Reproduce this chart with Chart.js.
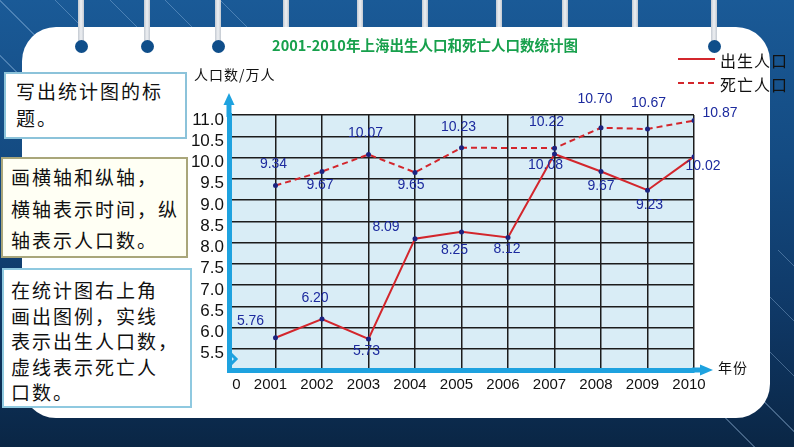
<!DOCTYPE html>
<html>
<head>
<meta charset="utf-8">
<script src="https://cdn.jsdelivr.net/npm/chart.js@4.4.0/dist/chart.umd.min.js"></script>
<style>
    html, body { margin: 0; padding: 0; }
    body {
        width: 794px; height: 447px; overflow: hidden; position: relative;
        background: linear-gradient(180deg, #1a5a97 0%, #144b82 35%, #0f3866 70%, #0a2645 100%);
        font-family: "Noto Sans CJK SC", sans-serif;
    }
    .stripes { position: absolute; left: 0; top: 0; width: 260px; height: 110px;
        background: repeating-linear-gradient(45deg, transparent 0 38px, rgba(170, 205, 240, 0.35) 38px 39px); }
    .stripes.right { left: 700px; top: 250px; width: 94px; height: 197px; }
    .panel { position: absolute; left: 22px; top: 27px; width: 748px; height: 391px; background: #fff; border-radius: 34px; }
    .bar { position: absolute; top: 0; width: 6px; background: linear-gradient(90deg, #c3c9d1, #eef0f3, #c3c9d1); }
    .ring { position: absolute; width: 13px; height: 13px; border-radius: 50%; background: #0f4e8a; }
    #chart { position: absolute; left: 0; top: 0; }
    .note { position: absolute; box-sizing: border-box; font-size: 19px; letter-spacing: 2px; color: #111; white-space: nowrap; }
</style>
</head>
<body>
<div class="stripes"></div>
<div class="stripes right"></div>
<div class="panel"></div>
<div id="rings"></div>
<canvas id="chart" width="794" height="447"></canvas>

<div class="note" style="left:4px;top:72px;width:183px;height:67px;border:2px solid #8cc3da;background:#fff;line-height:27px;padding:3px 0 0 10px;">写出统计图的标<br>题。</div>
<div class="note" style="left:1px;top:157px;width:187px;height:101px;border:2px solid #a9a67a;background:#fffff4;line-height:31.5px;padding:2px 0 0 8px;">画横轴和纵轴，<br>横轴表示时间，纵<br>轴表示人口数。</div>
<div class="note" style="left:2px;top:268px;width:190px;height:140px;border:2px solid #8fc9e0;background:#fff;line-height:25.5px;padding:7px 0 0 7px;">在统计图右上角<br>画出图例，实线<br>表示出生人口数，<br>虚线表示死亡人<br>口数。</div>

<script>
// Chart data
const years = [2001, 2002, 2003, 2004, 2005, 2006, 2007, 2008, 2009, 2010];
const birthValues = [5.76, 6.20, 5.73, 8.09, 8.25, 8.12, 10.08, 9.67, 9.23, 10.02];
const deathValues = [9.34, 9.67, 10.07, 9.65, 10.23, null, 10.22, 10.70, 10.67, 10.87];
const seriesNames = ['出生人口', '死亡人口'];
const yMin = 5, yMax = 11, yStep = 0.5;
const xStart = 2000;
const chartTitle = '2001-2010年上海出生人口和死亡人口数统计图';
const yAxisTitle = '人口数/万人';
const xAxisTitle = '年份';

// Binder rings along the top of the slide
const ringHolder = document.getElementById('rings');
[81, 147, 218, 286, 360, 425, 499, 565, 635, 714].forEach((x) => {
    const withRing = [81, 147, 218, 714].includes(x);
    const bar = document.createElement('div');
    bar.className = 'bar';
    bar.style.left = (x - 3) + 'px';
    bar.style.height = (withRing ? 46 : 27) + 'px';
    ringHolder.appendChild(bar);
    if (withRing) {
        const ring = document.createElement('div');
        ring.className = 'ring';
        ring.style.left = (x - 6.5) + 'px';
        ring.style.top = '39.5px';
        ringHolder.appendChild(ring);
    }
});

// Label shifts (dx, dy) from each point
const birthLabelShift = [[-25, -17], [-7, -21], [-2, 12], [-29, -12], [-7, 18], [-1, 12], [-9, 11], [0, 15], [2, 15], [9, 9]];
const deathLabelShift = [[-2, -21], [-2, 14], [-3, -21], [-4, 13], [-3, -21], [0, 0], [-8, -26], [-6, -29], [1, -26], [26, -7]];

const AXIS_BLUE = '#1ea2df';
const LINE_RED = '#d3262c';

const slideChartPlugin = {
    id: 'slideChart',
    beforeDraw(chart) {
        const { ctx, chartArea: a } = chart;
        ctx.save();
        ctx.fillStyle = '#d9edf6';
        ctx.fillRect(a.left, a.top, a.right - a.left, a.bottom - a.top);
        ctx.restore();
    },
    afterDraw(chart) {
        const { ctx, chartArea: a } = chart;
        ctx.save();

        // axis extensions and arrows
        ctx.strokeStyle = AXIS_BLUE;
        ctx.fillStyle = AXIS_BLUE;
        ctx.lineWidth = 5;
        ctx.beginPath();
        ctx.moveTo(a.left, a.top + 2);
        ctx.lineTo(a.left, a.top - 12);
        ctx.moveTo(a.right - 2, a.bottom);
        ctx.lineTo(a.right + 8, a.bottom);
        ctx.stroke();
        ctx.beginPath();
        ctx.moveTo(a.left, a.top - 22);
        ctx.lineTo(a.left - 5.5, a.top - 10);
        ctx.lineTo(a.left + 5.5, a.top - 10);
        ctx.closePath();
        ctx.fill();
        ctx.beginPath();
        ctx.moveTo(a.right + 19, a.bottom);
        ctx.lineTo(a.right + 6, a.bottom - 5.5);
        ctx.lineTo(a.right + 6, a.bottom + 5.5);
        ctx.closePath();
        ctx.fill();

        // axis break mark
        ctx.lineWidth = 3;
        ctx.beginPath();
        ctx.moveTo(a.left, a.bottom - 18);
        ctx.lineTo(a.left + 7, a.bottom - 11);
        ctx.lineTo(a.left, a.bottom - 4);
        ctx.stroke();

        // value labels
        ctx.font = '14px "Liberation Sans", Arial, sans-serif';
        ctx.fillStyle = '#1c2a9e';
        ctx.textAlign = 'center';
        ctx.textBaseline = 'middle';
        const shifts = [birthLabelShift, deathLabelShift];
        chart.data.datasets.forEach((ds, i) => {
            chart.getDatasetMeta(i).data.forEach((pt, j) => {
                const v = ds.data[j].y;
                if (v === null || pt.skip) return;
                const [dx, dy] = shifts[i][j];
                ctx.fillText(v.toFixed(2), pt.x + dx, pt.y + dy);
            });
        });

        // legend
        chart.data.datasets.forEach((ds, i) => {
            const y = 59 + i * 24;
            ctx.strokeStyle = ds.borderColor;
            ctx.lineWidth = 2;
            ctx.setLineDash(ds.borderDash || []);
            ctx.beginPath();
            ctx.moveTo(678, y);
            ctx.lineTo(715, y);
            ctx.stroke();
            ctx.setLineDash([]);
            ctx.fillStyle = '#111';
            ctx.font = '16px "Noto Sans CJK SC", sans-serif';
            ctx.textAlign = 'left';
            ctx.letterSpacing = '1px';
            ctx.fillText(ds.label, 720, y + 2);
            ctx.letterSpacing = '0px';
        });

        // title and axis names
        ctx.fillStyle = '#17a04c';
        ctx.font = 'bold 14.5px "Noto Sans CJK SC", sans-serif';
        ctx.textAlign = 'center';
        ctx.fillText(chartTitle, 425, 45);
        ctx.fillStyle = '#111';
        ctx.font = '14px "Noto Sans CJK SC", sans-serif';
        ctx.textAlign = 'left';
        ctx.letterSpacing = '1px';
        ctx.fillText(yAxisTitle, 194, 75);
        ctx.fillText(xAxisTitle, 718, 368);
        ctx.restore();
    }
};

Chart.defaults.font.family = '"Liberation Sans", Arial, sans-serif';

const gridStyle = { color: '#1c1c1c', lineWidth: 1.5, drawTicks: false };
const axisBorder = { color: AXIS_BLUE, width: 5 };

new Chart(document.getElementById('chart'), {
    type: 'line',
    data: {
        datasets: [{
            label: seriesNames[0],
            data: years.map((yr, i) => ({ x: yr, y: birthValues[i] })),
            borderColor: LINE_RED,
            borderWidth: 2,
            pointRadius: 2.5,
            pointBackgroundColor: '#1b2380',
            pointBorderWidth: 0,
            tension: 0
        }, {
            label: seriesNames[1],
            data: years.map((yr, i) => ({ x: yr, y: deathValues[i] })),
            borderColor: LINE_RED,
            borderWidth: 2,
            borderDash: [6, 4],
            pointRadius: 2.5,
            pointBackgroundColor: '#1b2380',
            pointBorderWidth: 0,
            spanGaps: true,
            tension: 0
        }]
    },
    options: {
        responsive: false,
        devicePixelRatio: 1,
        animation: false,
        layout: { padding: { left: 179, right: 100, top: 115, bottom: 47 } },
        plugins: { legend: { display: false }, tooltip: { enabled: false } },
        scales: {
            x: {
                type: 'linear',
                min: xStart,
                max: years[years.length - 1],
                afterFit: (scale) => { scale.height = 30; },
                grid: gridStyle,
                border: axisBorder,
                ticks: {
                    stepSize: 1,
                    autoSkip: false,
                    maxTicksLimit: 20,
                    maxRotation: 0,
                    padding: 6,
                    labelOffset: -5,
                    color: '#111',
                    font: { size: 15 },
                    callback: (v) => v === xStart ? '      0' : String(v)
                }
            },
            y: {
                min: yMin,
                max: yMax,
                afterFit: (scale) => { scale.width = 50; },
                grid: gridStyle,
                border: axisBorder,
                ticks: {
                    stepSize: yStep,
                    autoSkip: false,
                    maxTicksLimit: 20,
                    padding: 5,
                    labelOffset: 5,
                    color: '#111',
                    font: { size: 17 },
                    callback: (v) => v === yMin ? '' : v.toFixed(1)
                }
            }
        }
    },
    plugins: [slideChartPlugin]
});
</script>
</body>
</html>
